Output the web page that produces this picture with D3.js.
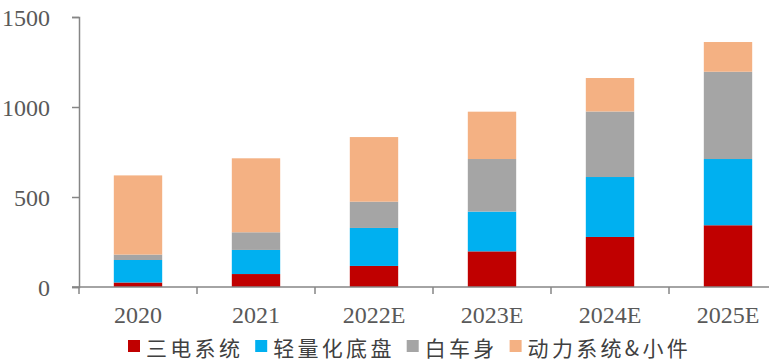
<!DOCTYPE html>
<html><head><meta charset="utf-8">
<script src="https://cdn.jsdelivr.net/npm/d3@7"></script>
<style>body{margin:0;background:#fff;}svg{display:block;}</style>
</head><body>
<svg id="c" width="769" height="362"></svg>
<script>
const categories = ["2020","2021","2022E","2023E","2024E","2025E"];
const seriesNames = ["三电系统","轻量化底盘","白车身","动力系统&小件"];
const battery = [25, 72, 117, 198, 278, 343];
const chassis = [125, 134, 211, 221, 333, 368];
const body = [30, 98, 146, 292, 364, 485];
const powertrain = [440, 411, 359, 263, 186, 165];
const yTicks = [0, 500, 1000, 1500];
const colors = ["#C00000","#00B0F0","#A5A5A5","#F4B183"];

const seriesValues = [battery, chassis, body, powertrain];
const rows = categories.map((c,i)=>{const r={cat:c}; seriesNames.forEach((s,j)=>r[s]=seriesValues[j][i]); return r;});
const stack = d3.stack().keys(seriesNames)(rows);

const svg = d3.select("#c");
const x = d3.scaleBand().domain(categories).range([79, 787]).padding(0);
const y = d3.scaleLinear().domain([0,1500]).range([287,17]);
const barW = x.bandwidth()*0.41;
const axisColor = "#868686";
const serif = "'Liberation Serif','Times New Roman',serif";

// bars
svg.append("g").selectAll("g").data(stack).join("g")
  .attr("fill",(d,i)=>colors[i])
  .selectAll("rect").data(d=>d).join("rect")
  .attr("x",d=>x(d.data.cat)+(x.bandwidth()-barW)/2)
  .attr("width",barW)
  .attr("y",d=>y(d[1]))
  .attr("height",d=>y(d[0])-y(d[1]));

// y axis
const ya = svg.append("g").attr("transform","translate(79,0)")
  .call(d3.axisLeft(y).tickValues(yTicks).tickSize(7).tickPadding(22).tickFormat(d3.format("d")));
ya.attr("font-family",serif).attr("font-size",24);
ya.select(".domain").attr("stroke",axisColor).attr("stroke-width",1.5);
ya.selectAll(".tick line").attr("stroke",axisColor).attr("stroke-width",1.5);
ya.selectAll("text").attr("fill","#595959").style("font-family",serif).style("font-size","24px").attr("dy","0.36em");

// x axis
const xg = svg.append("g");
xg.append("line").attr("x1",72).attr("x2",787).attr("y1",y(0)).attr("y2",y(0)).attr("stroke",axisColor).attr("stroke-width",1.5);
const bounds = categories.map(c=>x(c)).concat([x.range()[1]]);
xg.selectAll("line.t").data(bounds).join("line").attr("class","t")
  .attr("x1",d=>d).attr("x2",d=>d).attr("y1",y(0)).attr("y2",y(0)+7)
  .attr("stroke",axisColor).attr("stroke-width",1.5);
xg.selectAll("text").data(categories).join("text")
  .attr("x",d=>x(d)+x.bandwidth()/2).attr("y",323)
  .attr("text-anchor","middle").attr("fill","#595959")
  .style("font-family",serif).style("font-size","24px")
  .text(d=>d);

// legend
const lg = svg.append("g");
let lx = 128;
seriesNames.forEach((s,i)=>{
  lg.append("rect").attr("x",lx).attr("y",340).attr("width",12).attr("height",12).attr("fill",colors[i]);
  const t = lg.append("text").attr("x",lx+18).attr("y",356)
    .attr("fill","#404040").style("font-family","'Noto Sans CJK SC',sans-serif").style("font-size","21px")
    .attr("letter-spacing",3.3)
    .text(s);
  const w = t.node().getComputedTextLength();
  lx = lx + 18 + w + 12;
});
</script>
</body></html>
